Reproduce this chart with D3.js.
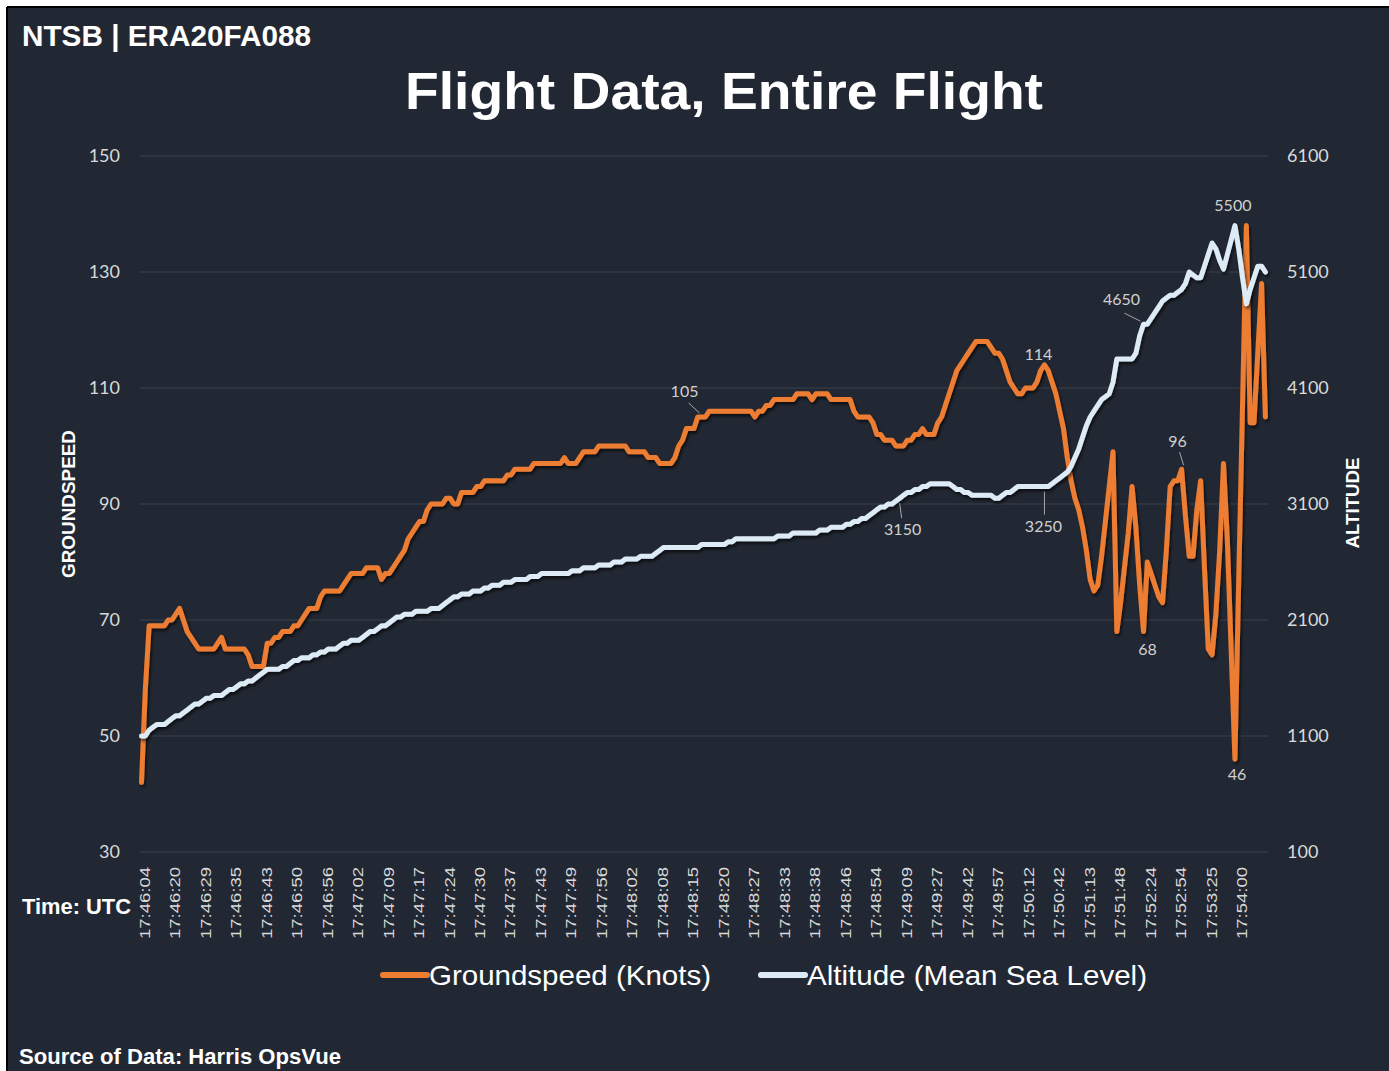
<!DOCTYPE html>
<html>
<head>
<meta charset="utf-8">
<script src="https://cdn.jsdelivr.net/npm/d3@7"></script>
<style>
  html, body { margin: 0; padding: 0; background: #fff; }
  svg { display: block; }
</style>
</head>
<body>
<div id="chart"></div>
<script>
// x tick labels, one every 8th sample
const tickLabels = ["17:46:04","17:46:20","17:46:29","17:46:35","17:46:43","17:46:50","17:46:56",
  "17:47:02","17:47:09","17:47:17","17:47:24","17:47:30","17:47:37","17:47:43","17:47:49","17:47:56",
  "17:48:02","17:48:08","17:48:15","17:48:20","17:48:27","17:48:33","17:48:38","17:48:46","17:48:54",
  "17:49:09","17:49:27","17:49:42","17:49:57","17:50:12","17:50:42","17:51:13","17:51:48","17:52:24",
  "17:52:54","17:53:25","17:54:00"];

// groundspeed, knots
const groundspeed = [
  42,58,69,69,69,69,69,70,70,71,
  72,70,68,67,66,65,65,65,65,65,
  66,67,65,65,65,65,65,65,64,62,
  62,62,62,66,66,67,67,68,68,68,
  69,69,70,71,72,72,72,74,75,75,
  75,75,75,76,77,78,78,78,78,79,
  79,79,79,77,78,78,79,80,81,82,
  84,85,86,87,87,89,90,90,90,90,
  91,91,90,90,92,92,92,92,93,93,
  94,94,94,94,94,94,95,95,96,96,
  96,96,96,97,97,97,97,97,97,97,
  97,98,97,97,97,98,99,99,99,99,
  100,100,100,100,100,100,100,100,99,99,
  99,99,99,98,98,98,97,97,97,97,
  98,100,101,103,103,103,105,105,105,106,
  106,106,106,106,106,106,106,106,106,106,
  106,105,106,106,107,107,108,108,108,108,
  108,108,109,109,109,109,108,109,109,109,
  109,108,108,108,108,108,108,106,105,105,
  105,105,104,102,102,101,101,101,100,100,
  100,101,101,102,102,103,102,102,102,104,
  105,107,109,111,113,114,115,116,117,118,
  118,118,118,117,116,116,115,113,111,110,
  109,109,110,110,110,111,113,114,113,111,
  109,106,103,98,94,91,89,86,82,77,
  75,76,81,87,93,99,68,73,79,85,
  93,86,76,68,80,78,76,74,73,82,
  93,94,94,96,88,81,81,89,94,79,
  65,64,71,82,97,84,65,46,77,107,
  138,104,104,116,128,105
];

// altitude, feet MSL
const altitude = [
  1100,1100,1150,1175,1200,1200,1200,1225,1250,1275,
  1275,1300,1325,1350,1375,1375,1400,1425,1425,1450,
  1450,1450,1475,1500,1500,1525,1550,1550,1575,1575,
  1600,1625,1650,1675,1675,1675,1675,1700,1700,1725,
  1750,1750,1775,1775,1775,1800,1800,1825,1825,1850,
  1850,1850,1875,1900,1900,1925,1925,1925,1950,1975,
  2000,2000,2025,2050,2050,2075,2100,2125,2125,2150,
  2150,2150,2175,2175,2175,2175,2200,2200,2200,2225,
  2250,2275,2300,2300,2325,2325,2325,2350,2350,2350,
  2375,2375,2400,2400,2400,2425,2425,2425,2450,2450,
  2450,2450,2475,2475,2475,2500,2500,2500,2500,2500,
  2500,2500,2500,2525,2525,2525,2550,2550,2550,2550,
  2575,2575,2575,2575,2600,2600,2600,2625,2625,2625,
  2625,2650,2650,2650,2650,2675,2700,2725,2725,2725,
  2725,2725,2725,2725,2725,2725,2725,2750,2750,2750,
  2750,2750,2750,2750,2775,2775,2800,2800,2800,2800,
  2800,2800,2800,2800,2800,2800,2800,2825,2825,2825,
  2825,2850,2850,2850,2850,2850,2850,2850,2875,2875,
  2875,2900,2900,2900,2900,2925,2925,2950,2950,2975,
  2975,3000,3025,3050,3075,3075,3100,3100,3125,3150,
  3175,3200,3200,3225,3225,3250,3250,3275,3275,3275,
  3275,3275,3275,3250,3225,3225,3200,3200,3175,3175,
  3175,3175,3175,3175,3150,3150,3175,3200,3200,3225,
  3250,3250,3250,3250,3250,3250,3250,3250,3250,3275,
  3300,3325,3350,3375,3425,3500,3575,3675,3775,3850,
  3900,3950,4000,4025,4050,4150,4350,4350,4350,4350,
  4350,4400,4550,4650,4650,4700,4750,4800,4850,4875,
  4900,4900,4925,4950,5000,5100,5075,5050,5050,5150,
  5250,5350,5300,5200,5125,5250,5375,5500,5300,5050,
  4825,4950,5050,5150,5150,5100
];

const speedTicks = [30, 50, 70, 90, 110, 130, 150];
const altTicks = [100, 1100, 2100, 3100, 4100, 5100, 6100];

// samples that carry a data label
const speedLabelIdx = [147, 237, 263, 273, 287];
const altLabelIdx = [199, 237, 263, 287];

const W = 1389, H = 1071;
const BG = '#222833';
const ORANGE = '#ED7D31';
const PALE = '#DDEBF7';

const svg = d3.select('#chart').append('svg')
  .attr('width', W).attr('height', H)
  .style('font-family', '"Liberation Sans", Arial, sans-serif');

const defs = svg.append('defs');
defs.append('filter').attr('id', 'shadow')
  .attr('x', '-5%').attr('y', '-5%').attr('width', '110%').attr('height', '120%')
  .append('feDropShadow')
  .attr('dx', 1.5).attr('dy', 2.5).attr('stdDeviation', 1.6)
  .attr('flood-color', '#000').attr('flood-opacity', 0.65);

// background + sheet edge
svg.append('rect').attr('width', W).attr('height', H).attr('fill', '#fff');
svg.append('rect').attr('x', 8).attr('y', 8).attr('width', W - 8).attr('height', H - 8).attr('fill', BG);
svg.append('line').attr('x1', 7).attr('x2', W).attr('y1', 7).attr('y2', 7).attr('stroke', '#000').attr('stroke-width', 2);
svg.append('line').attr('x1', 7).attr('x2', 7).attr('y1', 7).attr('y2', H).attr('stroke', '#000').attr('stroke-width', 2);

// scales
const x = d3.scaleLinear().domain([0, groundspeed.length - 1]).range([141.5, 1265.4]);
const yL = d3.scaleLinear().domain([30, 150]).range([852, 156]);
const yR = d3.scaleLinear().domain([100, 6100]).range([852, 156]);

// gridlines
svg.append('g').selectAll('line').data(speedTicks).join('line')
  .attr('x1', 140).attr('x2', 1268)
  .attr('y1', d => yL(d)).attr('y2', d => yL(d))
  .attr('stroke', '#3a404b').attr('stroke-width', 1);

// left axis
const gL = svg.append('g').attr('transform', 'translate(120,0)')
  .call(d3.axisLeft(yL).tickValues(speedTicks).tickFormat(d3.format('d')).tickSize(0).tickPadding(0));
gL.select('.domain').remove();
gL.selectAll('text').attr('fill', '#d9d9d9')
  .style('font-family', 'Lato, sans-serif').style('font-size', '18px');

// right axis
const gR = svg.append('g').attr('transform', 'translate(1287,0)')
  .call(d3.axisRight(yR).tickValues(altTicks).tickFormat(d3.format('d')).tickSize(0).tickPadding(0));
gR.select('.domain').remove();
gR.selectAll('text').attr('fill', '#d9d9d9')
  .style('font-family', 'Lato, sans-serif').style('font-size', '18px');

// bottom axis (category labels every 8th point)
const gX = svg.append('g').attr('transform', 'translate(0,867)')
  .call(d3.axisBottom(x)
    .tickValues(tickLabels.map((d, i) => i * 8))
    .tickFormat((d, i) => tickLabels[i])
    .tickSize(0).tickPadding(0));
gX.select('.domain').remove();
gX.selectAll('text')
  .attr('transform', 'rotate(-90)')
  .attr('text-anchor', 'end')
  .attr('x', 0).attr('y', 2.5).attr('dy', '0.35em')
  .attr('textLength', 72).attr('lengthAdjust', 'spacingAndGlyphs')
  .attr('fill', '#d9d9d9').style('font-size', '15px');

// series
const speedLine = d3.line().x((d, i) => x(i)).y(d => yL(d));
const altLine = d3.line().x((d, i) => x(i)).y(d => yR(d));

svg.append('path').datum(groundspeed)
  .attr('d', speedLine).attr('fill', 'none')
  .attr('stroke', ORANGE).attr('stroke-width', 5)
  .attr('stroke-linejoin', 'round').attr('stroke-linecap', 'round')
  .attr('filter', 'url(#shadow)');

svg.append('path').datum(altitude)
  .attr('d', altLine).attr('fill', 'none')
  .attr('stroke', PALE).attr('stroke-width', 5)
  .attr('stroke-linejoin', 'round').attr('stroke-linecap', 'round')
  .attr('filter', 'url(#shadow)');

// data labels: [dx, dy] from the point to the label centre, plus optional leader
const speedLabelPos = {
  147: { dx: -17, dy: -26, lead: [[-13, -14], [-2, -4]] },
  237: { dx: -6, dy: -10 },
  263: { dx: 4, dy: 18 },
  273: { dx: -4, dy: -28, lead: [[-2, -17], [2, -4]] },
  287: { dx: 2, dy: 15 }
};
const altLabelPos = {
  199: { dx: 3, dy: 31, lead: [[2, 20], [0, 5]] },
  237: { dx: -1, dy: 40, lead: [[0, 28], [0, 5]] },
  263: { dx: -22, dy: -25, lead: [[-19, -11], [-3, -3]] },
  287: { dx: -2, dy: -20 }
};

function addLabels(idxs, series, scale, pos) {
  idxs.forEach(i => {
    const px = x(i), py = scale(series[i]);
    const p = pos[i];
    if (p.lead) {
      svg.append('line')
        .attr('x1', px + p.lead[0][0]).attr('y1', py + p.lead[0][1])
        .attr('x2', px + p.lead[1][0]).attr('y2', py + p.lead[1][1])
        .attr('stroke', '#a6a6a6').attr('stroke-width', 1);
    }
    svg.append('text')
      .attr('x', px + p.dx).attr('y', py + p.dy).attr('dy', '0.35em')
      .attr('text-anchor', 'middle')
      .attr('fill', '#d0d0d0')
      .style('font-family', 'Lato, sans-serif').style('font-size', '16px')
      .text(series[i]);
  });
}
addLabels(speedLabelIdx, groundspeed, yL, speedLabelPos);
addLabels(altLabelIdx, altitude, yR, altLabelPos);

// titles and notes
svg.append('text').attr('x', 22).attr('y', 46)
  .attr('fill', '#fff').style('font-weight', 'bold').style('font-size', '30px')
  .attr('textLength', 289).attr('lengthAdjust', 'spacingAndGlyphs')
  .text('NTSB | ERA20FA088');

svg.append('text').attr('x', 405).attr('y', 109)
  .attr('fill', '#fff').style('font-weight', 'bold').style('font-size', '52px')
  .attr('textLength', 638).attr('lengthAdjust', 'spacingAndGlyphs')
  .text('Flight Data, Entire Flight');

svg.append('text')
  .attr('transform', 'translate(75,504) rotate(-90)')
  .attr('text-anchor', 'middle')
  .attr('fill', '#fff').style('font-weight', 'bold').style('font-size', '19px')
  .attr('textLength', 148).attr('lengthAdjust', 'spacingAndGlyphs')
  .text('GROUNDSPEED');

svg.append('text')
  .attr('transform', 'translate(1359,503) rotate(-90)')
  .attr('text-anchor', 'middle')
  .attr('fill', '#fff').style('font-weight', 'bold').style('font-size', '18.5px')
  .attr('textLength', 91).attr('lengthAdjust', 'spacingAndGlyphs')
  .text('ALTITUDE');

svg.append('text').attr('x', 22).attr('y', 914)
  .attr('fill', '#fff').style('font-weight', 'bold').style('font-size', '22px')
  .attr('textLength', 109).attr('lengthAdjust', 'spacingAndGlyphs')
  .text('Time: UTC');

svg.append('text').attr('x', 19).attr('y', 1064)
  .attr('fill', '#fff').style('font-weight', 'bold').style('font-size', '22px')
  .attr('textLength', 322).attr('lengthAdjust', 'spacingAndGlyphs')
  .text('Source of Data: Harris OpsVue');

// legend
const legend = [
  { name: 'Groundspeed (Knots)', color: ORANGE, x0: 383, len: 282 },
  { name: 'Altitude (Mean Sea Level)', color: PALE, x0: 761, len: 340 }
];
const lg = svg.append('g');
legend.forEach(l => {
  lg.append('line')
    .attr('x1', l.x0).attr('x2', l.x0 + 44).attr('y1', 975).attr('y2', 975)
    .attr('stroke', l.color).attr('stroke-width', 6).attr('stroke-linecap', 'round');
  lg.append('text')
    .attr('x', l.x0 + 46).attr('y', 985)
    .attr('fill', '#fff').style('font-size', '28px')
    .attr('textLength', l.len).attr('lengthAdjust', 'spacingAndGlyphs')
    .text(l.name);
});
</script>
</body>
</html>
